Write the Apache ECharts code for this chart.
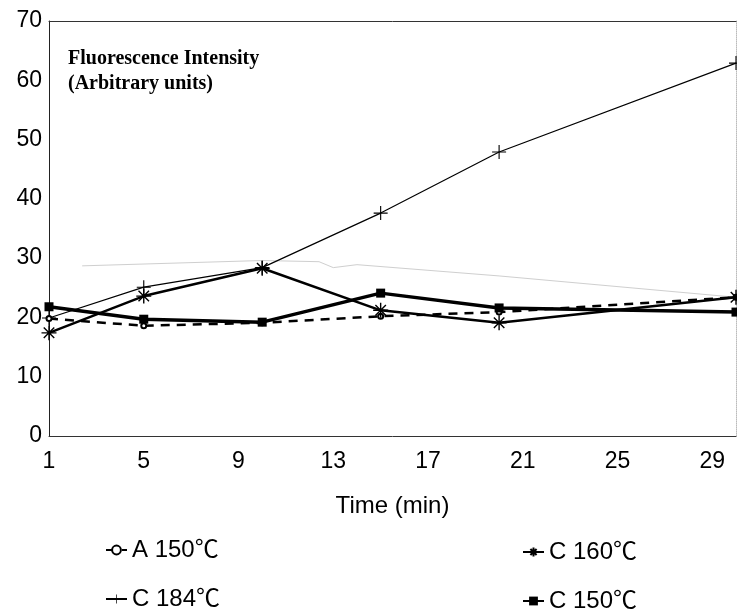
<!DOCTYPE html>
<html>
<head>
<meta charset="utf-8">
<script src="https://cdn.jsdelivr.net/npm/echarts@6/dist/echarts.min.js"></script>
<style>
  html, body { margin: 0; padding: 0; background: #fff; }
  #chart { width: 737px; height: 614px; }
</style>
</head>
<body>
<div id="chart"></div>
<script>
// Sampling times (min)
const times = [1, 5, 10, 15, 20, 30];
// Fluorescence intensity per condition
const a150 = [19.8, 18.6, 19.1, 20.2, 20.9, 23.4];
const c184 = [19.9, 25.1, 28.4, 37.6, 47.9, 62.9];
const c160 = [17.4, 23.6, 28.3, 21.2, 19.1, 23.4];
const c150 = [21.8, 19.7, 19.2, 24.1, 21.6, 20.9];
// Faint trace visible behind the main curves
const traceX = [2.4, 10, 12.4, 13, 14, 20, 30];
const traceY = [28.7, 29.6, 29.4, 28.4, 28.9, 27.0, 23.4];
// Axis ticks
const xTicks = [1, 5, 9, 13, 17, 21, 25, 29];
const yTicks = [0, 10, 20, 30, 40, 50, 60, 70];
const seriesNames = ['A 150\u2103', 'C 184\u2103', 'C 160\u2103', 'C 150\u2103'];

const pairs = (xs, ys) => xs.map((x, i) => [x, ys[i]]);

const SANS = '"Liberation Sans", Arial, "Noto Sans CJK SC", sans-serif';
const plusPath = 'path://M4.6,0H5.4V4.6H10V5.4H5.4V10H4.6V5.4H0V4.6H4.6Z';
const starPath = 'path://M0,5L10,5M5,0L5,10M1.5,1.5L8.5,8.5M1.5,8.5L8.5,1.5';

const chart = echarts.init(document.getElementById('chart'), null, { renderer: 'canvas' });

const legendBase = {
  orient: 'horizontal',
  itemWidth: 21,
  itemHeight: 11,
  textStyle: { fontFamily: SANS, fontSize: 24, color: '#000' },
  selectedMode: false
};

chart.setOption({
  backgroundColor: '#fff',
  animation: false,
  grid: { left: 49, right: 1, top: 21, bottom: 178, containLabel: false },
  graphic: [{
    type: 'text',
    left: 68,
    top: 46,
    style: {
      text: 'Fluorescence Intensity\n(Arbitrary units)',
      font: 'bold 20px "Liberation Serif", "Times New Roman", serif',
      lineHeight: 25,
      fill: '#000'
    }
  }],
  legend: [
    Object.assign({ data: [seriesNames[0]], left: 100, top: 533 }, legendBase),
    Object.assign({ data: [seriesNames[1]], left: 100, top: 582 }, legendBase),
    Object.assign({ data: [seriesNames[2]], left: 517, top: 535 }, legendBase),
    Object.assign({ data: [seriesNames[3]], left: 517, top: 584 }, legendBase)
  ],
  xAxis: [{
    type: 'value',
    min: 1,
    max: 30,
    name: 'Time (min)',
    nameLocation: 'middle',
    nameGap: 58,
    nameTextStyle: { fontFamily: SANS, fontSize: 24, color: '#000' },
    axisLine: { show: true, lineStyle: { color: '#333', width: 1 } },
    axisTick: { show: false },
    splitLine: { show: false },
    axisLabel: {
      customValues: xTicks,
      fontFamily: SANS, fontSize: 23, color: '#000', margin: 14
    }
  }, {
    type: 'value',
    position: 'top',
    min: 1,
    max: 30,
    axisLine: { show: true, onZero: false, lineStyle: { color: '#333', width: 1 } },
    axisTick: { show: false },
    axisLabel: { show: false },
    splitLine: { show: false }
  }],
  yAxis: [{
    type: 'value',
    min: 0,
    max: 70,
    interval: 10,
    axisLine: { show: true, lineStyle: { color: '#222', width: 1 } },
    axisTick: { show: false },
    splitLine: { show: false },
    axisLabel: {
      customValues: yTicks,
      fontFamily: SANS, fontSize: 23, color: '#000', margin: 7
    }
  }, {
    type: 'value',
    position: 'right',
    min: 0,
    max: 70,
    interval: 10,
    axisLine: { show: true, onZero: false, lineStyle: { color: '#bbb', width: 1, type: 'dotted' } },
    axisTick: { show: false },
    axisLabel: { show: false },
    splitLine: { show: false }
  }],
  series: [
    {
      name: 'trace',
      type: 'line',
      data: pairs(traceX, traceY),
      symbol: 'none',
      silent: true,
      lineStyle: { color: '#cfcfcf', width: 1 },
      z: 1
    },
    {
      name: seriesNames[1],
      type: 'line',
      data: pairs(times, c184),
      symbol: plusPath,
      symbolSize: 14,
      itemStyle: { color: '#000' },
      lineStyle: { color: '#000', width: 1.2 },
      z: 3
    },
    {
      name: seriesNames[0],
      type: 'line',
      data: pairs(times, a150),
      symbol: 'emptyCircle',
      symbolSize: 5,
      itemStyle: { color: '#000', borderColor: '#000', borderWidth: 1.5 },
      lineStyle: { color: '#000', width: 2.5, type: [9, 7] },
      z: 4
    },
    {
      name: seriesNames[2],
      type: 'line',
      data: pairs(times, c160),
      symbol: starPath,
      symbolSize: 15,
      itemStyle: { color: '#000', borderColor: '#000', borderWidth: 1.4 },
      lineStyle: { color: '#000', width: 2.5 },
      z: 5
    },
    {
      name: seriesNames[3],
      type: 'line',
      data: pairs(times, c150),
      symbol: 'rect',
      symbolSize: 9,
      itemStyle: { color: '#000' },
      lineStyle: { color: '#000', width: 3.5 },
      z: 6
    }
  ]
});
</script>
</body>
</html>
